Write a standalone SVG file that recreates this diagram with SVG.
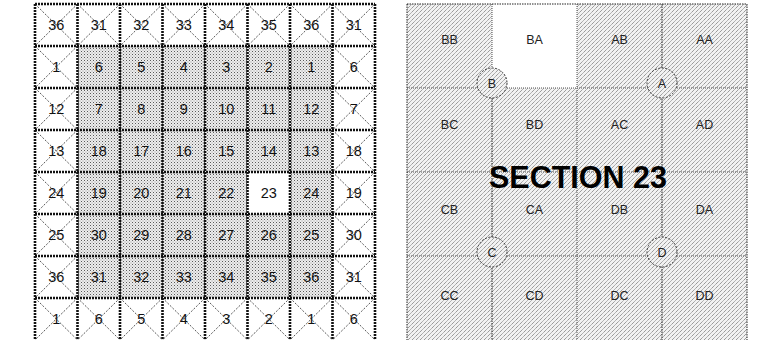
<svg xmlns="http://www.w3.org/2000/svg" width="762" height="340" viewBox="0 0 762 340">
<defs>
<pattern id="stip" width="3" height="3" patternUnits="userSpaceOnUse"><rect width="3" height="3" fill="#ededed"/><rect width="1" height="1" fill="#5a5a5a"/><rect x="1.5" y="1.5" width="1" height="1" fill="#999"/></pattern>
<pattern id="hatch" width="4" height="4" patternUnits="userSpaceOnUse"><rect width="4" height="4" fill="#f2f2f2"/><path d="M-1 1 L1 -1 M0 4 L4 0 M3 5 L5 3" stroke="#6e6e6e" stroke-width="0.8" stroke-dasharray="1.2 0.5"/></pattern>
<style>
.w{fill:#fff}
.s{fill:url(#stip)}
.x{stroke:#444;stroke-width:0.9;stroke-dasharray:2 1.5;fill:none}
.n{font-family:"Liberation Sans",Arial,sans-serif;font-size:14.5px;text-anchor:middle;fill:#111}
.g{stroke:#111;stroke-width:2.6;stroke-dasharray:2 1;fill:none}
.l{font-family:"Liberation Sans",Arial,sans-serif;font-size:12.5px;text-anchor:middle;fill:#222}
.rl{stroke:#555;stroke-width:1;stroke-dasharray:1 1;fill:none}
.rd{stroke:#222;stroke-width:1;stroke-dasharray:1.5 1;fill:none}
.c{fill:url(#hatch);stroke:#333;stroke-width:1;stroke-dasharray:2 1.5}
</style>
</defs>
<rect width="762" height="340" fill="#fff"/>
<g id="left-grid">
<g id="c1-1"><rect class="w" x="35" y="4" width="42.5" height="42"/><path class="x" d="M35 4l42.5 42M77.5 4l-42.5 42"/><text class="n" x="56.25" y="30">36</text></g>
<g id="c1-2"><rect class="w" x="77.5" y="4" width="42.5" height="42"/><path class="x" d="M77.5 4l42.5 42M120 4l-42.5 42"/><text class="n" x="98.75" y="30">31</text></g>
<g id="c1-3"><rect class="w" x="120" y="4" width="42.5" height="42"/><path class="x" d="M120 4l42.5 42M162.5 4l-42.5 42"/><text class="n" x="141.25" y="30">32</text></g>
<g id="c1-4"><rect class="w" x="162.5" y="4" width="42.5" height="42"/><path class="x" d="M162.5 4l42.5 42M205 4l-42.5 42"/><text class="n" x="183.75" y="30">33</text></g>
<g id="c1-5"><rect class="w" x="205" y="4" width="42.5" height="42"/><path class="x" d="M205 4l42.5 42M247.5 4l-42.5 42"/><text class="n" x="226.25" y="30">34</text></g>
<g id="c1-6"><rect class="w" x="247.5" y="4" width="42.5" height="42"/><path class="x" d="M247.5 4l42.5 42M290 4l-42.5 42"/><text class="n" x="268.75" y="30">35</text></g>
<g id="c1-7"><rect class="w" x="290" y="4" width="42.5" height="42"/><path class="x" d="M290 4l42.5 42M332.5 4l-42.5 42"/><text class="n" x="311.25" y="30">36</text></g>
<g id="c1-8"><rect class="w" x="332.5" y="4" width="42.5" height="42"/><path class="x" d="M332.5 4l42.5 42M375 4l-42.5 42"/><text class="n" x="353.75" y="30">31</text></g>
<g id="c2-1"><rect class="w" x="35" y="46" width="42.5" height="42"/><path class="x" d="M35 46l42.5 42M77.5 46l-42.5 42"/><text class="n" x="56.25" y="72">1</text></g>
<g id="c2-2"><rect class="s" x="77.5" y="46" width="42.5" height="42"/><text class="n" x="98.75" y="72">6</text></g>
<g id="c2-3"><rect class="s" x="120" y="46" width="42.5" height="42"/><text class="n" x="141.25" y="72">5</text></g>
<g id="c2-4"><rect class="s" x="162.5" y="46" width="42.5" height="42"/><text class="n" x="183.75" y="72">4</text></g>
<g id="c2-5"><rect class="s" x="205" y="46" width="42.5" height="42"/><text class="n" x="226.25" y="72">3</text></g>
<g id="c2-6"><rect class="s" x="247.5" y="46" width="42.5" height="42"/><text class="n" x="268.75" y="72">2</text></g>
<g id="c2-7"><rect class="s" x="290" y="46" width="42.5" height="42"/><text class="n" x="311.25" y="72">1</text></g>
<g id="c2-8"><rect class="w" x="332.5" y="46" width="42.5" height="42"/><path class="x" d="M332.5 46l42.5 42M375 46l-42.5 42"/><text class="n" x="353.75" y="72">6</text></g>
<g id="c3-1"><rect class="w" x="35" y="88" width="42.5" height="42"/><path class="x" d="M35 88l42.5 42M77.5 88l-42.5 42"/><text class="n" x="56.25" y="114">12</text></g>
<g id="c3-2"><rect class="s" x="77.5" y="88" width="42.5" height="42"/><text class="n" x="98.75" y="114">7</text></g>
<g id="c3-3"><rect class="s" x="120" y="88" width="42.5" height="42"/><text class="n" x="141.25" y="114">8</text></g>
<g id="c3-4"><rect class="s" x="162.5" y="88" width="42.5" height="42"/><text class="n" x="183.75" y="114">9</text></g>
<g id="c3-5"><rect class="s" x="205" y="88" width="42.5" height="42"/><text class="n" x="226.25" y="114">10</text></g>
<g id="c3-6"><rect class="s" x="247.5" y="88" width="42.5" height="42"/><text class="n" x="268.75" y="114">11</text></g>
<g id="c3-7"><rect class="s" x="290" y="88" width="42.5" height="42"/><text class="n" x="311.25" y="114">12</text></g>
<g id="c3-8"><rect class="w" x="332.5" y="88" width="42.5" height="42"/><path class="x" d="M332.5 88l42.5 42M375 88l-42.5 42"/><text class="n" x="353.75" y="114">7</text></g>
<g id="c4-1"><rect class="w" x="35" y="130" width="42.5" height="42"/><path class="x" d="M35 130l42.5 42M77.5 130l-42.5 42"/><text class="n" x="56.25" y="156">13</text></g>
<g id="c4-2"><rect class="s" x="77.5" y="130" width="42.5" height="42"/><text class="n" x="98.75" y="156">18</text></g>
<g id="c4-3"><rect class="s" x="120" y="130" width="42.5" height="42"/><text class="n" x="141.25" y="156">17</text></g>
<g id="c4-4"><rect class="s" x="162.5" y="130" width="42.5" height="42"/><text class="n" x="183.75" y="156">16</text></g>
<g id="c4-5"><rect class="s" x="205" y="130" width="42.5" height="42"/><text class="n" x="226.25" y="156">15</text></g>
<g id="c4-6"><rect class="s" x="247.5" y="130" width="42.5" height="42"/><text class="n" x="268.75" y="156">14</text></g>
<g id="c4-7"><rect class="s" x="290" y="130" width="42.5" height="42"/><text class="n" x="311.25" y="156">13</text></g>
<g id="c4-8"><rect class="w" x="332.5" y="130" width="42.5" height="42"/><path class="x" d="M332.5 130l42.5 42M375 130l-42.5 42"/><text class="n" x="353.75" y="156">18</text></g>
<g id="c5-1"><rect class="w" x="35" y="172" width="42.5" height="42"/><path class="x" d="M35 172l42.5 42M77.5 172l-42.5 42"/><text class="n" x="56.25" y="198">24</text></g>
<g id="c5-2"><rect class="s" x="77.5" y="172" width="42.5" height="42"/><text class="n" x="98.75" y="198">19</text></g>
<g id="c5-3"><rect class="s" x="120" y="172" width="42.5" height="42"/><text class="n" x="141.25" y="198">20</text></g>
<g id="c5-4"><rect class="s" x="162.5" y="172" width="42.5" height="42"/><text class="n" x="183.75" y="198">21</text></g>
<g id="c5-5"><rect class="s" x="205" y="172" width="42.5" height="42"/><text class="n" x="226.25" y="198">22</text></g>
<g id="c5-6"><rect class="w" x="247.5" y="172" width="42.5" height="42"/><text class="n" x="268.75" y="198">23</text></g>
<g id="c5-7"><rect class="s" x="290" y="172" width="42.5" height="42"/><text class="n" x="311.25" y="198">24</text></g>
<g id="c5-8"><rect class="w" x="332.5" y="172" width="42.5" height="42"/><path class="x" d="M332.5 172l42.5 42M375 172l-42.5 42"/><text class="n" x="353.75" y="198">19</text></g>
<g id="c6-1"><rect class="w" x="35" y="214" width="42.5" height="42"/><path class="x" d="M35 214l42.5 42M77.5 214l-42.5 42"/><text class="n" x="56.25" y="240">25</text></g>
<g id="c6-2"><rect class="s" x="77.5" y="214" width="42.5" height="42"/><text class="n" x="98.75" y="240">30</text></g>
<g id="c6-3"><rect class="s" x="120" y="214" width="42.5" height="42"/><text class="n" x="141.25" y="240">29</text></g>
<g id="c6-4"><rect class="s" x="162.5" y="214" width="42.5" height="42"/><text class="n" x="183.75" y="240">28</text></g>
<g id="c6-5"><rect class="s" x="205" y="214" width="42.5" height="42"/><text class="n" x="226.25" y="240">27</text></g>
<g id="c6-6"><rect class="s" x="247.5" y="214" width="42.5" height="42"/><text class="n" x="268.75" y="240">26</text></g>
<g id="c6-7"><rect class="s" x="290" y="214" width="42.5" height="42"/><text class="n" x="311.25" y="240">25</text></g>
<g id="c6-8"><rect class="w" x="332.5" y="214" width="42.5" height="42"/><path class="x" d="M332.5 214l42.5 42M375 214l-42.5 42"/><text class="n" x="353.75" y="240">30</text></g>
<g id="c7-1"><rect class="w" x="35" y="256" width="42.5" height="42"/><path class="x" d="M35 256l42.5 42M77.5 256l-42.5 42"/><text class="n" x="56.25" y="282">36</text></g>
<g id="c7-2"><rect class="s" x="77.5" y="256" width="42.5" height="42"/><text class="n" x="98.75" y="282">31</text></g>
<g id="c7-3"><rect class="s" x="120" y="256" width="42.5" height="42"/><text class="n" x="141.25" y="282">32</text></g>
<g id="c7-4"><rect class="s" x="162.5" y="256" width="42.5" height="42"/><text class="n" x="183.75" y="282">33</text></g>
<g id="c7-5"><rect class="s" x="205" y="256" width="42.5" height="42"/><text class="n" x="226.25" y="282">34</text></g>
<g id="c7-6"><rect class="s" x="247.5" y="256" width="42.5" height="42"/><text class="n" x="268.75" y="282">35</text></g>
<g id="c7-7"><rect class="s" x="290" y="256" width="42.5" height="42"/><text class="n" x="311.25" y="282">36</text></g>
<g id="c7-8"><rect class="w" x="332.5" y="256" width="42.5" height="42"/><path class="x" d="M332.5 256l42.5 42M375 256l-42.5 42"/><text class="n" x="353.75" y="282">31</text></g>
<g id="c8-1"><rect class="w" x="35" y="298" width="42.5" height="42"/><path class="x" d="M35 298l42.5 42M77.5 298l-42.5 42"/><text class="n" x="56.25" y="324">1</text></g>
<g id="c8-2"><rect class="w" x="77.5" y="298" width="42.5" height="42"/><path class="x" d="M77.5 298l42.5 42M120 298l-42.5 42"/><text class="n" x="98.75" y="324">6</text></g>
<g id="c8-3"><rect class="w" x="120" y="298" width="42.5" height="42"/><path class="x" d="M120 298l42.5 42M162.5 298l-42.5 42"/><text class="n" x="141.25" y="324">5</text></g>
<g id="c8-4"><rect class="w" x="162.5" y="298" width="42.5" height="42"/><path class="x" d="M162.5 298l42.5 42M205 298l-42.5 42"/><text class="n" x="183.75" y="324">4</text></g>
<g id="c8-5"><rect class="w" x="205" y="298" width="42.5" height="42"/><path class="x" d="M205 298l42.5 42M247.5 298l-42.5 42"/><text class="n" x="226.25" y="324">3</text></g>
<g id="c8-6"><rect class="w" x="247.5" y="298" width="42.5" height="42"/><path class="x" d="M247.5 298l42.5 42M290 298l-42.5 42"/><text class="n" x="268.75" y="324">2</text></g>
<g id="c8-7"><rect class="w" x="290" y="298" width="42.5" height="42"/><path class="x" d="M290 298l42.5 42M332.5 298l-42.5 42"/><text class="n" x="311.25" y="324">1</text></g>
<g id="c8-8"><rect class="w" x="332.5" y="298" width="42.5" height="42"/><path class="x" d="M332.5 298l42.5 42M375 298l-42.5 42"/><text class="n" x="353.75" y="324">6</text></g>
<g id="left-lines">
<path class="g" d="M35 4H375M35 46H375M35 88H375M35 130H375M35 172H375M35 214H375M35 256H375M35 298H375"/>
<path class="g" d="M35 4V340M77.5 4V340M120 4V340M162.5 4V340M205 4V340M247.5 4V340M290 4V340M332.5 4V340M375 4V340"/>
</g>
</g>
<g id="right-grid">
<rect x="407" y="4" width="340" height="336" fill="url(#hatch)"/>
<g id="BA"><rect x="492" y="4" width="85" height="84" fill="#fff"/><text class="l" x="534.5" y="44">BA</text></g>
<g id="BB"><text class="l" x="449.5" y="44">BB</text></g>
<g id="AB"><text class="l" x="619.5" y="44">AB</text></g>
<g id="AA"><text class="l" x="704.5" y="44">AA</text></g>
<g id="BC"><text class="l" x="449.5" y="129">BC</text></g>
<g id="BD"><text class="l" x="534.5" y="129">BD</text></g>
<g id="AC"><text class="l" x="619.5" y="129">AC</text></g>
<g id="AD"><text class="l" x="704.5" y="129">AD</text></g>
<g id="CB"><text class="l" x="449.5" y="214">CB</text></g>
<g id="CA"><text class="l" x="534.5" y="214">CA</text></g>
<g id="DB"><text class="l" x="619.5" y="214">DB</text></g>
<g id="DA"><text class="l" x="704.5" y="214">DA</text></g>
<g id="CC"><text class="l" x="449.5" y="300">CC</text></g>
<g id="CD"><text class="l" x="534.5" y="300">CD</text></g>
<g id="DC"><text class="l" x="619.5" y="300">DC</text></g>
<g id="DD"><text class="l" x="704.5" y="300">DD</text></g>
<g id="right-lines">
<path class="rl" d="M407 88H747M407 172H747M407 256H747M577 4V340M492 4V88"/>
<path class="rd" d="M492 88V340M662 4V340"/>
<path class="rd" d="M407 4H747V340M407 4V340"/>
</g>
<g id="circle-B"><circle class="c" cx="492" cy="83" r="15"/><text class="l" x="492" y="88">B</text></g>
<g id="circle-A"><circle class="c" cx="662" cy="83" r="15"/><text class="l" x="662" y="88">A</text></g>
<g id="circle-C"><circle class="c" cx="492" cy="252" r="15"/><text class="l" x="492" y="257">C</text></g>
<g id="circle-D"><circle class="c" cx="662" cy="252" r="15"/><text class="l" x="662" y="257">D</text></g>
<text x="578" y="188" font-family="'Liberation Sans',Arial,sans-serif" font-size="32" font-weight="bold" text-anchor="middle" fill="#000" textLength="178" lengthAdjust="spacingAndGlyphs">SECTION 23</text>
</g>
</svg>
